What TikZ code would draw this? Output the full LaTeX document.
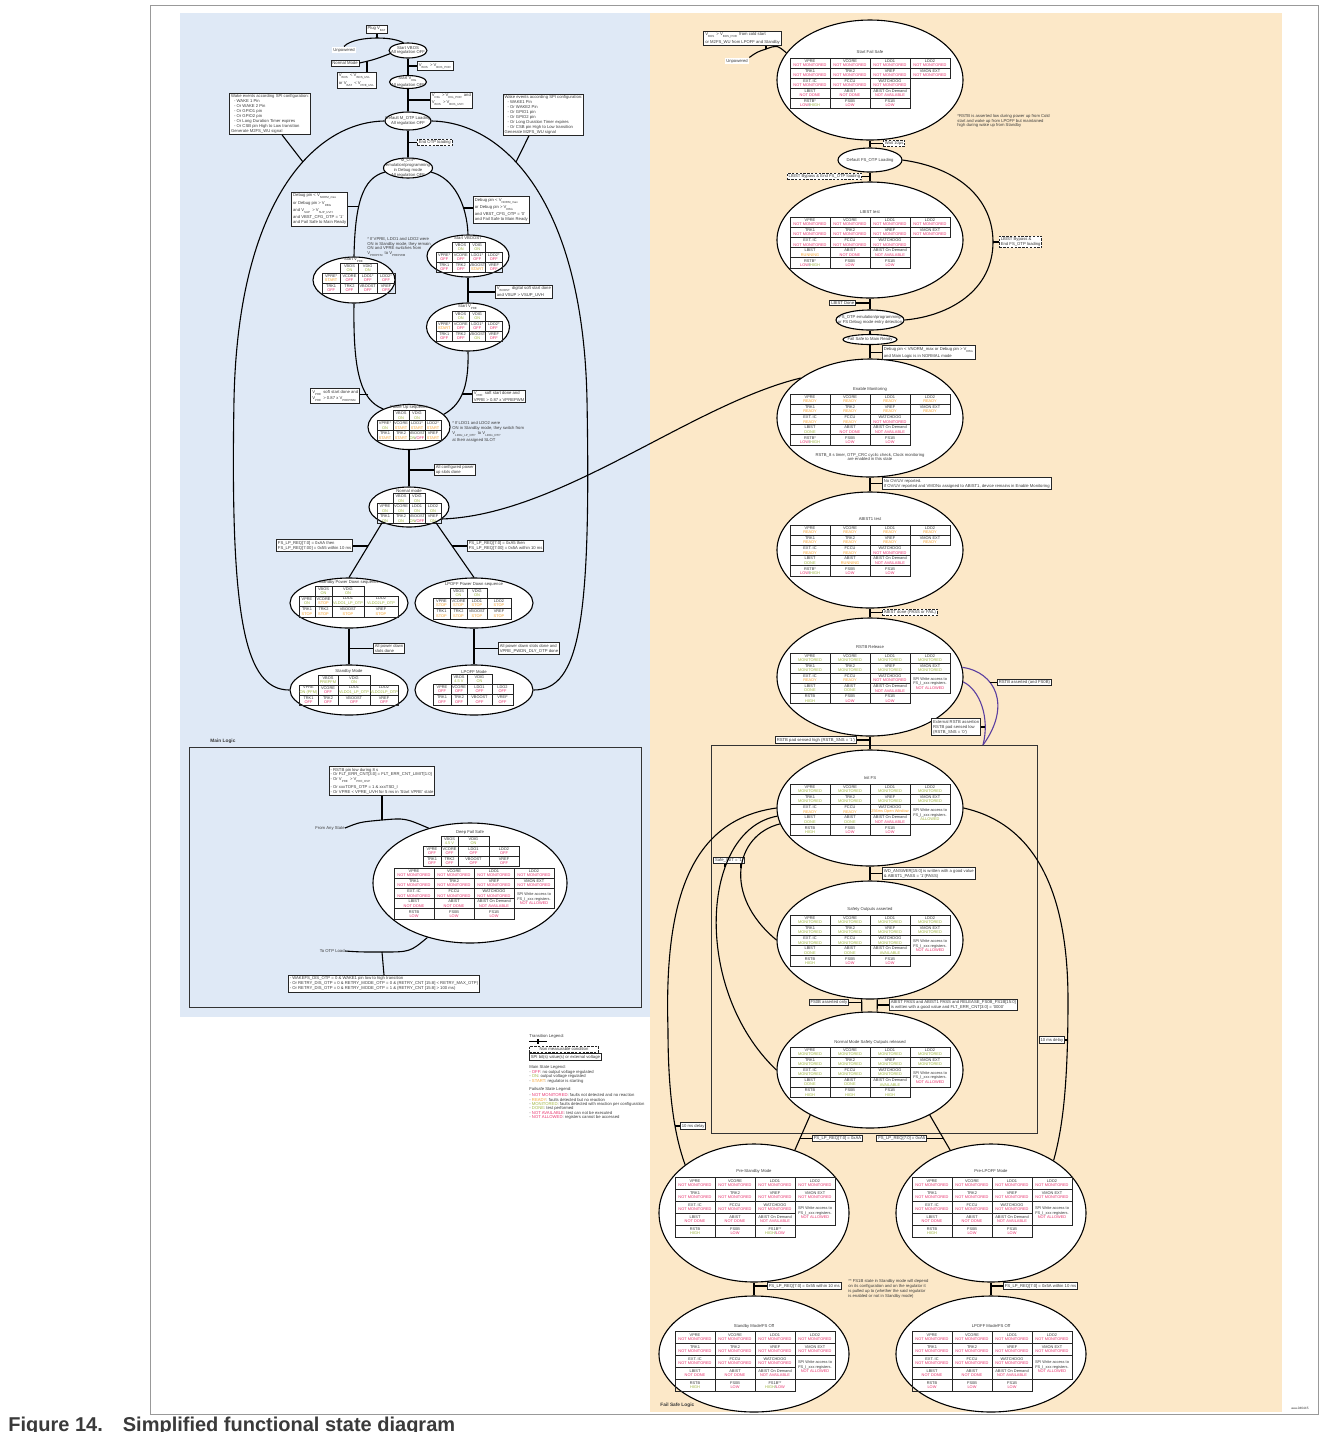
\documentclass[tikz,border=0pt]{standalone}
\usepackage{fontspec}
\setmainfont{Liberation Sans}
\usetikzlibrary{shapes.geometric}

\definecolor{bluebg}{HTML}{DFE9F6}
\definecolor{beigebg}{HTML}{FCE8C8}
\definecolor{stred}{HTML}{E8336E}
\definecolor{stgreen}{HTML}{9FB43F}
\definecolor{storange}{HTML}{F5A12E}
\definecolor{purp}{HTML}{5B3FA0}
\definecolor{ink}{HTML}{3A3A3A}

\newcommand\cellfont{\fontsize{1.95}{2.25}\selectfont}
\newcommand\lblfont{\fontsize{2.1}{2.45}\selectfont}
\newcommand\titfont{\fontsize{2.1}{2.4}\selectfont}
\newcommand\stR[1]{\textcolor{stred}{#1}}
\newcommand\stG[1]{\textcolor{stgreen}{#1}}
\newcommand\stO[1]{\textcolor{storange}{#1}}
\newcommand\stNM{\stR{NOT MONITORED}}
\newcommand\stMO{\stG{MONITORED}}
\newcommand\stRD{\stO{READY}}
\newcommand\lsub[1]{\textsubscript{#1}}

% one table cell: x, y (top-left), width, height, name, state
\newcount\cellno
\newcommand\tcell[6]{\global\advance\cellno by 1\relax
  \node[cell, minimum width={(#3)*0.5pt}, minimum height={(#4)*0.5pt}]
    (cell\the\cellno) at ({(#1)+(#3)/2},{(#2)+(#4)/2}) {#5\\#6};}
% fail-safe table: cell by column / row
\newcommand\fq[4]{\tcell{(#1)*40}{(#2)*\fsrh}{40}{\fsrh}{#3}{#4}}
\newcommand\fsA[1]{\fq{0}{0}{VPRE}{#1}\fq{1}{0}{VCORE}{#1}\fq{2}{0}{LDO1}{#1}\fq{3}{0}{LDO2}{#1}}
\newcommand\fsB[1]{\fq{0}{1}{TRK1}{#1}\fq{1}{1}{TRK2}{#1}\fq{2}{1}{VREF}{#1}\fq{3}{1}{VMON EXT}{#1}}
\newcommand\fsC[3]{\fq{0}{2}{EXT. IC}{#1}\fq{1}{2}{FCCU}{#2}\fq{2}{2}{WATCHDOG}{#3}}
\newcommand\fsD[3]{\fq{0}{3}{LBIST}{#1}\fq{1}{3}{ABIST}{#2}\fq{2}{3}{ABIST On Demand}{#3}}
\newcommand\fsE[5]{\fq{0}{4}{#1}{#2}\fq{1}{4}{FS0B}{#3}\fq{2}{4}{#4}{#5}}
\newcommand\fsSPI[1]{\tcell{120}{2*\fsrh}{40}{2*\fsrh}{SPI Write access to\\FS\_I\_xxx registers.}{#1}}
% regulator table: cell by column / row
\newcommand\mq[4]{\tcell{(#1)*\msw}{(#2)*\msh}{\msw}{\msh}{#3}{#4}}
% empty state ellipse: name, cx, cy, rx, ry
\newcommand\stn[5]{\node[stt, minimum width=#4pt, minimum height=#5pt] (#1) at (#2,#3) {};}

\begin{document}
\begin{tikzpicture}[x=0.5pt,y=-0.5pt,
  cell/.style={draw=black!85, line width=0.35pt, inner sep=0pt, align=center, font=\cellfont, text=ink},
  stt/.style={ellipse, draw=black, line width=0.55pt, fill=white, inner sep=0pt},
  lbl/.style={draw=black!85, line width=0.45pt, fill=white, inner sep=0.7pt, align=left, font=\lblfont, text=ink},
  dlbl/.style={lbl, dash pattern=on 1.2pt off 0.7pt},
  conn/.style={line width=0.55pt, draw=black},
  pconn/.style={line width=0.55pt, draw=purp},
  ttl/.style={font=\titfont, text=ink, inner sep=0pt, align=center},
  txt/.style={font=\lblfont, text=ink, inner sep=0pt, align=left}]

\useasboundingbox (0,0) rectangle (1328,1432);
\fill[white] (0,0) rectangle (1328,1432);
\draw[black!40, line width=0.4pt] (150,5) rectangle (1318,1414);
\fill[bluebg] (180,13) rectangle (650,1017);
\fill[beigebg] (650,13) rectangle (1282,1412);

%% ================= Main logic =================
\stn{evbos}{408}{50.5}{19}{7.5}
\stn{evdig}{408}{82}{18.5}{6.5}
\stn{emotp}{408}{121}{23}{9}
\stn{emem}{408}{168}{24.5}{10}
\stn{esvpreA}{354}{280}{41}{23}
\stn{esvboost}{468}{256}{41}{21}
\stn{esvpreB}{468}{327}{41.5}{24}
\stn{epup}{409}{427}{41}{22.5}
\stn{enorm}{409}{507}{40}{20}
\stn{esbpd}{349}{603}{59}{25}
\stn{elppd}{474}{603}{59}{25}
\stn{esb}{349}{690}{59}{25}
\stn{elp}{474}{690}{59}{25}

\node[ttl] (tvbos) at (408,50.5) {Start VBOS\\All regulation OFF};
\node[ttl] (tvdig) at (408,82) {Start V\lsub{DIG}\\All regulation OFF};
\node[ttl] (tmotp) at (408,121) {Default M\_OTP Loading\\All regulation OFF};
\node[ttl] (tmem) at (408,168) {M\_OTP\\emulation/programming\\in Debug mode\\All regulation OFF};

\node[ttl] (tsvpreA) at (354,260) {Start V\lsub{PRE}};
\begin{scope}[shift={(322,263)}]\def\msw{18.3}\def\msh{10}
\mq{1}{0}{VBOS}{\stG{ON}}\mq{2}{0}{VDIG}{\stG{ON}}
\mq{0}{1}{VPRE*}{\stO{START}}\mq{1}{1}{VCORE}{\stR{OFF}}\mq{2}{1}{LDO1*}{\stR{OFF}}\mq{3}{1}{LDO2*}{\stR{OFF}}
\mq{0}{2}{TRK1}{\stR{OFF}}\mq{1}{2}{TRK2}{\stR{OFF}}\mq{2}{2}{VBOOST}{\stR{OFF}}\mq{3}{2}{VREF}{\stR{OFF}}
\end{scope}

\node[ttl] (tsvboost) at (468,238.5) {Start VBOOST};
\begin{scope}[shift={(436,242)}]\def\msw{16.5}\def\msh{10}
\mq{1}{0}{VBOS}{\stG{ON}}\mq{2}{0}{VDIG}{\stG{ON}}
\mq{0}{1}{VPRE*}{\stR{OFF}}\mq{1}{1}{VCORE}{\stR{OFF}}\mq{2}{1}{LDO1*}{\stR{OFF}}\mq{3}{1}{LDO2*}{\stR{OFF}}
\mq{0}{2}{TRK1}{\stR{OFF}}\mq{1}{2}{TRK2}{\stR{OFF}}\mq{2}{2}{VBOOST}{\stO{START}}\mq{3}{2}{VREF}{\stR{OFF}}
\end{scope}

\node[ttl] (tsvpreB) at (468,307.5) {Start V\lsub{PRE}};
\begin{scope}[shift={(436,311)}]\def\msw{16.5}\def\msh{10}
\mq{1}{0}{VBOS}{\stG{ON}}\mq{2}{0}{VDIG}{\stG{ON}}
\mq{0}{1}{VPRE*}{\stO{START}}\mq{1}{1}{VCORE}{\stR{OFF}}\mq{2}{1}{LDO1*}{\stR{OFF}}\mq{3}{1}{LDO2*}{\stR{OFF}}
\mq{0}{2}{TRK1}{\stR{OFF}}\mq{1}{2}{TRK2}{\stR{OFF}}\mq{2}{2}{VBOOST}{\stG{ON}}\mq{3}{2}{VREF}{\stR{OFF}}
\end{scope}

\node[ttl] (tpup) at (409,407.5) {Power Up sequence};
\begin{scope}[shift={(377,410.5)}]\def\msw{16}\def\msh{10}
\mq{1}{0}{VBOS}{\stG{ON}}\mq{2}{0}{VDIG}{\stG{ON}}
\mq{0}{1}{VPRE*}{\stG{ON}}\mq{1}{1}{VCORE}{\stO{START}}\mq{2}{1}{LDO1*}{\stO{START}}\mq{3}{1}{LDO2*}{\stO{START}}
\mq{0}{2}{TRK1}{\stO{START}}\mq{1}{2}{TRK2}{\stO{START}}\mq{2}{2}{VBOOST}{\stG{ON}/\stR{OFF}}\mq{3}{2}{VREF}{\stO{START}}
\end{scope}

\node[ttl] (tnorm) at (409,490.5) {Normal mode};
\begin{scope}[shift={(377,493.5)}]\def\msw{16}\def\msh{10}
\mq{1}{0}{VBOS}{\stG{ON}}\mq{2}{0}{VDIG}{\stG{ON}}
\mq{0}{1}{VPRE}{\stG{ON}}\mq{1}{1}{VCORE}{\stG{ON}}\mq{2}{1}{LDO1}{\stG{ON}}\mq{3}{1}{LDO2}{\stG{ON}}
\mq{0}{2}{TRK1}{\stG{ON}}\mq{1}{2}{TRK2}{\stG{ON}}\mq{2}{2}{VBOOST}{\stG{ON}/\stR{OFF}}\mq{3}{2}{VREF}{\stG{ON}}
\end{scope}

\node[ttl] (tsbpd) at (349,582.5) {Standby Power Down sequence};
\tcell{315}{586}{17}{10}{VBOS}{\stG{ON}}\tcell{332}{586}{32}{10}{VDIG}{\stG{ON}}
\tcell{299}{596}{16}{10.5}{VPRE}{\stG{ON}}\tcell{315}{596}{17}{10.5}{VCORE}{\stO{STOP}}\tcell{332}{596}{32}{10.5}{LDO1}{\stG{VLDO1\_LP\_OTP}}\tcell{364}{596}{34}{10.5}{LDO2}{\stG{VLDO2LP\_OTP}}
\tcell{299}{606.5}{16}{10.5}{TRK1}{\stO{STOP}}\tcell{315}{606.5}{17}{10.5}{TRK2}{\stO{STOP}}\tcell{332}{606.5}{32}{10.5}{VBOOST}{\stO{STOP}}\tcell{364}{606.5}{34}{10.5}{VREF}{\stO{STOP}}

\node[ttl] (tlppd) at (474,584.5) {LPOFF Power Down sequence};
\tcell{450}{588}{17}{10}{VBOS}{\stG{ON}}\tcell{467}{588}{20}{10}{VDIG}{\stG{ON}}
\tcell{433}{598}{17}{10.5}{VPRE}{\stO{STOP}}\tcell{450}{598}{17}{10.5}{VCORE}{\stO{STOP}}\tcell{467}{598}{20}{10.5}{LDO1}{\stO{STOP}}\tcell{487}{598}{24}{10.5}{LDO2}{\stO{STOP}}
\tcell{433}{608.5}{17}{10.5}{TRK1}{\stO{STOP}}\tcell{450}{608.5}{17}{10.5}{TRK2}{\stO{STOP}}\tcell{467}{608.5}{20}{10.5}{VBOOST}{\stO{STOP}}\tcell{487}{608.5}{24}{10.5}{VREF}{\stO{STOP}}

\node[ttl] (tsb) at (349,671.5) {Standby Mode};
\tcell{318}{675}{20}{10}{VBOS}{\stG{PREPFM}}\tcell{338}{675}{32}{10}{VDIG}{\stG{ON}}
\tcell{299}{685}{19}{10}{VPRE}{\stG{ON (PFM)}}\tcell{318}{685}{20}{10}{VCORE}{\stR{OFF}}\tcell{338}{685}{32}{10}{LDO1}{\stG{VLDO1\_LP\_OTP}}\tcell{370}{685}{28}{10}{LDO2}{\stG{VLDO2LP\_OTP}}
\tcell{299}{695}{19}{10}{TRK1}{\stR{OFF}}\tcell{318}{695}{20}{10}{TRK2}{\stR{OFF}}\tcell{338}{695}{32}{10}{VBOOST}{\stR{OFF}}\tcell{370}{695}{28}{10}{VREF}{\stR{OFF}}

\node[ttl] (tlp) at (474,671.5) {LPOFF Mode};
\tcell{451}{674}{16}{10}{VBOS}{\stG{4.5 V}}\tcell{467}{674}{25}{10}{VDIG}{\stG{ON}}
\tcell{433}{684}{18}{10.5}{VPRE}{\stR{OFF}}\tcell{451}{684}{16}{10.5}{VCORE}{\stR{OFF}}\tcell{467}{684}{25}{10.5}{LDO1}{\stR{OFF}}\tcell{492}{684}{21}{10.5}{LDO2}{\stR{OFF}}
\tcell{433}{694.5}{18}{10.5}{TRK1}{\stR{OFF}}\tcell{451}{694.5}{16}{10.5}{TRK2}{\stR{OFF}}\tcell{467}{694.5}{25}{10.5}{VBOOST}{\stR{OFF}}\tcell{492}{694.5}{21}{10.5}{VREF}{\stR{OFF}}

% transition labels, main logic
\node[lbl, anchor=south] (plug) at (377,33.5) {Plug V\lsub{BAT}};
\node[txt, fill=white, inner sep=0.6pt] (unpA) at (344,50) {Unpowered};
\node[lbl] (nmode) at (345,63) {Normal Mode};
\node[lbl, anchor=north] (uvl) at (357,72) {V\lsub{BOS} < V\lsub{BOS\_UVL}\\or V\lsub{BAT} < V\lsub{PRE\_UVL}};
\node[lbl, anchor=west] (por) at (417,66) {V\lsub{BOS} > V\lsub{BOS\_POR}};
\node[lbl, anchor=west] (digpor) at (430,100) {V\lsub{DIG} > V\lsub{DIG\_POR} and\\V\lsub{BOS} > V\lsub{BOS\_UVH}};
\node[dlbl, anchor=west] (endotp) at (417,142.5) {End OTP loading};
\node[lbl] (wakeL) at (270,114) {Wake events according SPI configuration:\\\hspace{1.5pt}- WAKE 1 Pin\\\hspace{1.5pt}- Or WAKE 2 Pin\\\hspace{1.5pt}- Or GPIO1 pin\\\hspace{1.5pt}- Or GPIO2 pin\\\hspace{1.5pt}- Or Long Duration Timer expires\\\hspace{1.5pt}- Or CSB pin High to Low transition\\Generate M2FS\_WU signal};
\node[lbl] (wakeR) at (543.5,115) {Wake events according SPI configuration:\\\hspace{1.5pt}- WAKE1 Pin\\\hspace{1.5pt}- Or WAKE2 Pin\\\hspace{1.5pt}- Or GPIO1 pin\\\hspace{1.5pt}- Or GPIO2 pin\\\hspace{1.5pt}- Or Long Duration Timer expires\\\hspace{1.5pt}- Or CSB pin High to Low transition\\Generate M2FS\_WU signal};
\node[lbl, anchor=east] (dbgL) at (348,209) {Debug pin < V\lsub{NORM\_max}\\or Debug pin > V\lsub{DBG}\\and V\lsub{SUP} > V\lsub{SUP\_UVH}\\and VBST\_CFG\_OTP = '1'\\and Fail Safe to Main Ready};
\node[lbl, anchor=west] (dbgR) at (473,210) {Debug pin < V\lsub{NORM\_max}\\or Debug pin > V\lsub{DBG}\\and VBST\_CFG\_OTP = '0'\\and Fail Safe to Main Ready};
\node[txt, anchor=west] (noteA) at (367,247) {* If VPRE, LDO1 and LDO2 were\\ON in Standby mode, they remain\\ON and VPRE switches from\\V\lsub{PREPFM} to V\lsub{PREPWM}};
\node[lbl, anchor=west] (vbst) at (495,292) {V\lsub{BOOST} digital soft start done\\and VSUP > VSUP\_UVH};
\node[lbl, anchor=east] (ssL) at (360,396) {V\lsub{PRE} soft start done and\\V\lsub{PRE} > 0.87 x V\lsub{PREPWM}};
\node[lbl, anchor=west] (ssR) at (472,396.5) {V\lsub{PRE} soft start done and\\VPRE > 0.87 x VPREPWM};
\node[txt, anchor=west] (noteB) at (452,432) {* If LDO1 and LDO2 were\\ON in Standby mode, they switch from\\V\lsub{LDOx\_LP\_OTP} to V\lsub{LDOx\_OTP}\\at their assigned SLOT};
\node[lbl, anchor=west] (allpu) at (434,470) {All configured power\\up slots done};
\node[lbl, anchor=east] (lpL) at (353,545.5) {FS\_LP\_REQ[7:0] = 0xAA then\\FS\_LP\_REQ[7:00] = 0x55 within 10 ms};
\node[lbl, anchor=west] (lpR) at (467,546) {FS\_LP\_REQ[7:0] = 0xA5 then\\FS\_LP\_REQ[7:00] = 0x5A within 10 ms};
\node[lbl, anchor=west] (pdL) at (373,648.5) {All power down\\slots done};
\node[lbl, anchor=west] (pdR) at (498,648.5) {All power down slots done and\\VPRE\_PWDN\_DLY\_OTP done};

% transitions, main logic
\coordinate (j1) at (377,38);
\draw[conn] (plug.south) -- (j1);
\draw[conn] (unpA.north) .. controls (350,40) and (366,38) .. (j1) .. controls (390,38) and (398,40) .. (evbos.120);
\coordinate (knm) at (367,61.3);
\draw[conn] (nmode.east) .. controls (363,62.5) .. (knm) .. controls (376,59) .. (evbos.190);
\draw[conn] (knm) -- (knm |- uvl.north);
\draw[conn] (evbos.south) -- (evdig.north);
\coordinate (kpor) at (408,66); \draw[conn] (kpor) -- (por.west);
\draw[conn] (evdig.south) -- (emotp.north);
\coordinate (kdig) at (408,100); \draw[conn] (kdig) -- (digpor.west);
\draw[conn] (emotp.south) -- (emem.north);
\coordinate (kotp) at (408,142.5); \draw[conn] (kotp) -- (endotp.west);
% outer wake-up loops
\draw[conn] (emotp.west) .. controls (315,122) and (238,200) .. (234,400) .. controls (230,620) and (245,690) .. (esb.west);
\draw[conn] (emotp.east) .. controls (503,122) and (583,200) .. (587,400) .. controls (591,620) and (580,690) .. (elp.east);
\coordinate (kwl) at (303,162); \draw[conn] (wakeL.300) -- (kwl);
\coordinate (kwr) at (516,162); \draw[conn] (wakeR.235) -- (kwr);
% debug branches
\draw[conn] (emem.190) .. controls (362,178) and (355,205) .. (esvpreA.north);
\draw[conn] (emem.350) .. controls (454,178) and (467,205) .. (esvboost.north);
\coordinate (kdl) at (358.6,206.5); \draw[conn] (kdl) -- (kdl -| dbgL.east);
\coordinate (kdr) at (463.5,208); \draw[conn] (kdr) -- (kdr -| dbgR.west);
\draw[conn] (esvboost.south) -- (esvpreB.north);
\coordinate (kvb) at (468,292); \draw[conn] (kvb) -- (kvb -| vbst.west);
\draw[conn] (esvpreA.south) .. controls (353,370) and (360,400) .. (epup.145);
\draw[conn] (esvpreB.south) .. controls (469,390) and (460,405) .. (epup.20);
\coordinate (kvl) at (368.3,394.5); \draw[conn] (kvl) -- (kvl -| ssL.east);
\coordinate (kvr) at (461.5,394); \draw[conn] (kvr) -- (kvr -| ssR.west);
\draw[conn] (epup.south) -- (enorm.north);
\coordinate (kpu) at (409,470); \draw[conn] (kpu) -- (allpu.west);
\draw[conn] (enorm.210) -- (esbpd.north);
\draw[conn] (enorm.330) -- (elppd.north);
\coordinate (klpl) at (367.5,546); \draw[conn] (klpl) -- (klpl -| lpL.east);
\coordinate (klpr) at (452,546); \draw[conn] (klpr) -- (klpr -| lpR.west);
\draw[conn] (esbpd.south) -- (esb.north);
\coordinate (kpdl) at (349,648.5); \draw[conn] (kpdl) -- (pdL.west);
\draw[conn] (elppd.south) -- (elp.north);
\coordinate (kpdr) at (474,648.5); \draw[conn] (kpdr) -- (pdR.west);

%% ----- Deep Fail Safe -----
\node[font=\fontsize{2.4}{2.8}\selectfont\bfseries, text=ink, anchor=west, inner sep=0pt] (mlogic) at (210,741) {Main Logic};
\draw[black!80, line width=0.45pt] (189,747) rectangle (641,1007);
\stn{edfs}{470}{883}{97}{60}
\node[ttl] (tdfs) at (470,832.5) {Deep Fail Safe};
\tcell{441}{836}{17}{10}{VBOS}{\stG{4.5 V}}\tcell{458}{836}{31}{10}{VDIG}{\stG{ON}}
\tcell{423}{846}{18}{10}{VPRE}{\stR{OFF}}\tcell{441}{846}{17}{10}{VCORE}{\stR{OFF}}\tcell{458}{846}{31}{10}{LDO1}{\stR{OFF}}\tcell{489}{846}{30}{10}{LDO2}{\stR{OFF}}
\tcell{423}{856}{18}{10}{TRK1}{\stR{OFF}}\tcell{441}{856}{17}{10}{TRK2}{\stR{OFF}}\tcell{458}{856}{31}{10}{VBOOST}{\stR{OFF}}\tcell{489}{856}{30}{10}{VREF}{\stR{OFF}}
\begin{scope}[shift={(394,868)}]\def\fsrh{10.2}
\fsA{\stNM}\fsB{\stNM}\fsC{\stNM}{\stNM}{\stNM}\fsSPI{\stR{NOT ALLOWED}}
\fsD{\stR{NOT DONE}}{\stR{NOT DONE}}{\stR{NOT AVAILABLE}}
\fsE{RSTB}{\stR{LOW}}{\stR{LOW}}{FS1B}{\stR{LOW}}
\end{scope}
\node[lbl] (rstbbox) at (382,781) {- RSTB pin low during 8 s\\- Or FLT\_ERR\_CNT[3:0] = FLT\_ERR\_CNT\_LIMIT[1:0]\\- Or V\lsub{PRE} > V\lsub{PRE\_OVP}\\- Or xxxTOFS\_OTP = 1 \& xxxTSD\_I\\- Or VPRE < VPRE\_UVH for 5 ms in 'Start VPRE' state};
\node[txt, anchor=east] (fas) at (345,828) {From Any State};
\node[txt, anchor=east] (tol) at (345,951) {To OTP Load};
\node[lbl, anchor=north] (wkbox) at (384,975) {- WAKEFS\_DIS\_OTP = 0 \& WAKE1 pin low to high transition\\- Or RETRY\_DIS\_OTP = 0 \& RETRY\_MODE\_OTP = 0 \& (RETRY\_CNT [15:8] < RETRY\_MAX\_OTP)\\- Or RETRY\_DIS\_OTP = 0 \& RETRY\_MODE\_OTP = 1 \& (RETRY\_CNT [15:8] > 100 ms)};
\coordinate (jd1) at (382,820);
\coordinate (jd2) at (382,952);
\draw[conn] (rstbbox.south) -- (jd1);
\draw[conn] (fas.east) .. controls (360,822) .. (jd1) .. controls (405,818) .. (edfs.127);
\draw[conn] (edfs.232) .. controls (410,952) .. (jd2) .. controls (360,952) .. (tol.east);
\draw[conn] (jd2) -- (wkbox.north);

%% legend
\node[txt, anchor=west] (lgA) at (529,1036) {Transition Legend:};
\coordinate (lga) at (529,1041.5); \coordinate (lgb) at (547,1041.5);
\coordinate (lgc) at (538,1039); \coordinate (lgd) at (538,1044);
\draw[conn] (lga) -- (lgb); \draw[conn] (lgc) -- (lgd);
\node[dlbl, anchor=west, minimum width=34.5pt] (lgB) at (529,1049) {Non measurable condition};
\node[lbl, anchor=west, minimum width=34.5pt] (lgC) at (529,1057) {SPI bit(s) value(s) or external voltage};
\node[txt, anchor=west] (lgD) at (529,1067) {Main State Legend:};
\node[txt, anchor=west] (lgD1) at (529,1072) {- \stR{OFF}: no output voltage regulated};
\node[txt, anchor=west] (lgD2) at (529,1076.5) {- \stG{ON}: output voltage regulated};
\node[txt, anchor=west] (lgD3) at (529,1081) {- \stO{START}: regulator is starting};
\node[txt, anchor=west] (lgE) at (529,1089) {Failsafe State Legend:};
\node[txt, anchor=west] (lgE1) at (529,1095) {- \stR{NOT MONITORED}: faults not detected and no reaction};
\node[txt, anchor=west] (lgE2) at (529,1099.5) {- \stO{READY}: faults detected but no reaction};
\node[txt, anchor=west] (lgE3) at (529,1104) {- \stG{MONITORED}: faults detected with reaction per configuration};
\node[txt, anchor=west] (lgE4) at (529,1108.5) {- \stG{DONE}: test performed};
\node[txt, anchor=west] (lgE5) at (529,1113) {- \stR{NOT AVAILABLE}: test can not be executed};
\node[txt, anchor=west] (lgE6) at (529,1117.5) {- \stR{NOT ALLOWED}: registers cannot be accessed};

%% ================= Fail safe logic =================
\draw[black!80, line width=0.45pt] (711,745) rectangle (1037,1133);
\stn{esfs}{870}{80}{93}{60}
\stn{edfo}{870}{160}{32}{12}
\stn{elbist}{870}{240}{93}{58}
\stn{efsotp}{870}{320}{34}{10}
\stn{efsmr}{870}{339.5}{27}{5}
\stn{een}{870}{418}{93}{59}
\stn{eabi}{870}{550}{93}{58}
\stn{erstb}{870}{677}{93}{59}
\stn{einit}{870}{808}{93}{58}
\stn{esfo}{870}{940}{93}{59}
\stn{enmso}{870}{1070}{93}{58}
\stn{epsb}{754}{1213}{95}{69}
\stn{eplp}{991}{1213}{95}{69}
\stn{esbfs}{754}{1354}{95}{58}
\stn{elpfs}{991}{1354}{95}{58}

\node[ttl] (tdfo) at (870,160) {Default FS\_OTP Loading};
\node[ttl] (tfsotp) at (870,320) {FS\_OTP emulation/programming\\or FS Debug mode entry detection};
\node[ttl] (tfsmr) at (870,339.5) {Fail Safe to Main Ready};

\node[ttl] (tsfs) at (870,52) {Start Fail Safe};
\begin{scope}[shift={(790,58)}]\def\fsrh{10}
\fsA{\stNM}\fsB{\stNM}\fsC{\stNM}{\stNM}{\stNM}
\fsD{\stR{NOT DONE}}{\stR{NOT DONE}}{\stR{NOT AVAILABLE}}
\fsE{RSTB*}{\stR{LOW}/\stG{HIGH}}{\stR{LOW}}{FS1B}{\stR{LOW}}
\end{scope}

\node[ttl] (tlbist) at (870,212) {LBIST test};
\begin{scope}[shift={(790,217)}]\def\fsrh{10.2}
\fsA{\stNM}\fsB{\stNM}\fsC{\stNM}{\stNM}{\stNM}
\fsD{\stO{RUNNING}}{\stR{NOT DONE}}{\stR{NOT AVAILABLE}}
\fsE{RSTB*}{\stR{LOW}/\stG{HIGH}}{\stR{LOW}}{FS1B}{\stR{LOW}}
\end{scope}

\node[ttl] (ten) at (870,389) {Enable Monitoring};
\begin{scope}[shift={(790,394)}]\def\fsrh{10.2}
\fsA{\stRD}\fsB{\stRD}\fsC{\stRD}{\stRD}{\stNM}
\fsD{\stG{DONE}}{\stR{NOT DONE}}{\stR{NOT AVAILABLE}}
\fsE{RSTB*}{\stR{LOW}/\stG{HIGH}}{\stR{LOW}}{FS1B}{\stR{LOW}}
\end{scope}
\node[ttl] (tennote) at (870,457) {RSTB\_8 s timer, OTP\_CRC cyclic check, Clock monitoring\\are enabled in this state};

\node[ttl] (tabi) at (870,519) {ABIST1 test};
\begin{scope}[shift={(790,525)}]\def\fsrh{10.2}
\fsA{\stRD}\fsB{\stRD}\fsC{\stRD}{\stRD}{\stNM}
\fsD{\stG{DONE}}{\stO{RUNNING}}{\stR{NOT AVAILABLE}}
\fsE{RSTB*}{\stR{LOW}/\stG{HIGH}}{\stR{LOW}}{FS1B}{\stR{LOW}}
\end{scope}

\node[ttl] (trstb) at (870,647) {RSTB Release};
\begin{scope}[shift={(790,653)}]\def\fsrh{10.1}
\fsA{\stMO}\fsB{\stMO}\fsC{\stRD}{\stRD}{\stNM}\fsSPI{\stR{NOT ALLOWED}}
\fsD{\stG{DONE}}{\stG{DONE}}{\stR{NOT AVAILABLE}}
\fsE{RSTB}{\stG{HIGH}}{\stR{LOW}}{FS1B}{\stR{LOW}}
\end{scope}

\node[ttl] (tinit) at (870,778) {Init FS};
\begin{scope}[shift={(790,784)}]\def\fsrh{10.2}
\fsA{\stMO}\fsB{\stMO}\fsC{\stRD}{\stRD}{\stO{256ms Open Window}}\fsSPI{\stG{ALLOWED}}
\fsD{\stG{DONE}}{\stG{DONE}}{\stR{NOT AVAILABLE}}
\fsE{RSTB}{\stG{HIGH}}{\stR{LOW}}{FS1B}{\stR{LOW}}
\end{scope}

\node[ttl] (tsfo) at (870,909) {Safety Outputs asserted};
\begin{scope}[shift={(790,915)}]\def\fsrh{10.2}
\fsA{\stMO}\fsB{\stMO}\fsC{\stMO}{\stMO}{\stMO}\fsSPI{\stR{NOT ALLOWED}}
\fsD{\stG{DONE}}{\stG{DONE}}{\stG{AVAILABLE}}
\fsE{RSTB}{\stG{HIGH}}{\stR{LOW}}{FS1B}{\stR{LOW}}
\end{scope}

\node[ttl] (tnmso) at (870,1042) {Normal Mode Safety Outputs released};
\begin{scope}[shift={(790,1047)}]\def\fsrh{10.1}
\fsA{\stMO}\fsB{\stMO}\fsC{\stMO}{\stMO}{\stMO}\fsSPI{\stR{NOT ALLOWED}}
\fsD{\stG{DONE}}{\stG{DONE}}{\stG{AVAILABLE}}
\fsE{RSTB}{\stG{HIGH}}{\stG{HIGH}}{FS1B}{\stG{HIGH}}
\end{scope}

\node[ttl] (tpsb) at (754,1171) {Pre-Standby Mode};
\begin{scope}[shift={(675,1177)}]\def\fsrh{12}
\fsA{\stNM}\fsB{\stNM}\fsC{\stNM}{\stNM}{\stNM}\fsSPI{\stR{NOT ALLOWED}}
\fsD{\stR{NOT DONE}}{\stR{NOT DONE}}{\stR{NOT AVAILABLE}}
\fsE{RSTB}{\stG{HIGH}}{\stR{LOW}}{FS1B**}{\stG{HIGH}/\stR{LOW}}
\end{scope}

\node[ttl] (tplp) at (991,1171) {Pre-LPOFF Mode};
\begin{scope}[shift={(912,1177)}]\def\fsrh{12}
\fsA{\stNM}\fsB{\stNM}\fsC{\stNM}{\stNM}{\stNM}\fsSPI{\stR{NOT ALLOWED}}
\fsD{\stR{NOT DONE}}{\stR{NOT DONE}}{\stR{NOT AVAILABLE}}
\fsE{RSTB}{\stG{HIGH}}{\stR{LOW}}{FS1B}{\stR{LOW}}
\end{scope}

\node[ttl] (tsbfs) at (754,1326) {Standby Mode/FS Off};
\begin{scope}[shift={(675,1331)}]\def\fsrh{12}
\fsA{\stNM}\fsB{\stNM}\fsC{\stNM}{\stNM}{\stNM}\fsSPI{\stR{NOT ALLOWED}}
\fsD{\stR{NOT DONE}}{\stR{NOT DONE}}{\stR{NOT AVAILABLE}}
\fsE{RSTB}{\stG{HIGH}}{\stR{LOW}}{FS1B**}{\stG{HIGH}/\stR{LOW}}
\end{scope}

\node[ttl] (tlpfs) at (991,1326) {LPOFF Mode/FS Off};
\begin{scope}[shift={(912,1331)}]\def\fsrh{12}
\fsA{\stNM}\fsB{\stNM}\fsC{\stNM}{\stNM}{\stNM}\fsSPI{\stR{NOT ALLOWED}}
\fsD{\stR{NOT DONE}}{\stR{NOT DONE}}{\stR{NOT AVAILABLE}}
\fsE{RSTB}{\stR{LOW}}{\stR{LOW}}{FS1B}{\stR{LOW}}
\end{scope}

% transition labels, fail safe logic
\node[lbl] (coldbox) at (742.5,38.5) {V\lsub{BOS} > V\lsub{BOS\_POR} from cold start\\or M2FS\_WU from LPOFF and Standby};
\node[txt, fill=white, inner sep=0.6pt] (unpB) at (737,61) {Unpowered};
\node[txt, anchor=west] (noteC) at (957,121) {*RSTB is asserted low during power up from Cold\\start and wake up from LPOFF but maintained\\high during wake up from Standby};
\node[dlbl, anchor=west] (wait) at (883,143.5) {Wait 10µs};
\node[dlbl, anchor=east] (lbypA) at (862,176.5) {LBIST Bypass \& End FS\_OTP loading};
\node[dlbl, anchor=west] (lbypB) at (999,242) {LBIST Bypass \&\\End FS\_OTP loading};
\node[lbl, anchor=east] (ldone) at (856,303) {LBIST Done};
\node[lbl, anchor=west] (dbgM) at (882,352.5) {Debug pin < VNORM\_max or Debug pin > V\lsub{DBG}\\and Main Logic is in NORMAL mode};
\node[lbl, anchor=west] (ovuv) at (882,483.5) {No OV/UV reported.\\If OV/UV reported and VMONx assigned to ABIST1, device remains in Enable Monitoring};
\node[dlbl, anchor=west] (abd) at (882,612.5) {ABIST done (PASS or FAIL)};
\node[lbl, anchor=west] (rsa) at (997,682.5) {RSTB asserted (and FS0B)};
\node[lbl, anchor=east] (extr) at (981,727) {External RSTB assertion\\RSTB pad sensed low\\(RSTB\_SNS = '0')};
\node[lbl, anchor=east] (rsh) at (857,740) {RSTB pad sensed high (RSTB\_SNS = '1')};
\node[lbl, anchor=west] (wdans) at (882,873.5) {WD\_ANSWER[15:0] is written with a good value\\\& ABIST1\_PASS = '1'(PASS)};
\node[lbl] (safeinit) at (729,860.5) {Safe\_INIT = '1'};
\node[lbl, anchor=east] (fs0b) at (849,1002.5) {FS0B asserted only};
\node[lbl, anchor=west] (relfs) at (889,1005) {ABIST PASS and ABIST1 PASS and RELEASE\_FS0B\_FS1B[15:0]\\is written with a good value and FLT\_ERR\_CNT[3:0] = '0000'};
\node[lbl, anchor=west] (dlyL) at (680,1126) {10 ms delay};
\node[lbl, anchor=east] (dlyR) at (1065,1040) {10 ms delay};
\node[lbl, anchor=west] (lpaa) at (812,1138.5) {FS\_LP\_REQ[7:0] = 0xAA};
\node[lbl, anchor=east] (lpa5) at (927,1138.5) {FS\_LP\_REQ[7:0] = 0xA5};
\node[lbl, anchor=west] (lp55) at (767,1286) {FS\_LP\_REQ[7:0] = 0x55 within 10 ms};
\node[lbl, anchor=west] (lp5a) at (1003,1286) {FS\_LP\_REQ[7:0] = 0x5A within 10 ms};
\node[txt, anchor=west] (noteD) at (848,1289) {** FS1B state in Standby mode will depend\\on its configuration and on the regulator it\\is pulled up to (whether the said regulator\\is enabled or not in Standby mode)};
\node[font=\fontsize{2.4}{2.8}\selectfont\bfseries, text=ink, anchor=west, inner sep=0pt] (fslogic) at (660,1405) {Fail Safe Logic};
\node[font=\fontsize{1.6}{2}\selectfont, text=ink, inner sep=0pt] (docid) at (1300,1408) {aaa-046445};

% transitions, fail safe logic
\coordinate (j2) at (766,49);
\draw[conn] (coldbox.south -| j2) -- (j2);
\draw[conn] (unpB.north east) .. controls (757,52) .. (j2) .. controls (777,45) .. (esfs.162);
\draw[conn] (esfs.south) -- (edfo.north);
\coordinate (kwait) at (870,143.5); \draw[conn] (kwait) -- (wait.west);
\draw[conn] (edfo.south) -- (elbist.north);
\coordinate (kbya) at (870,176.5); \draw[conn] (kbya) -- (lbypA.east);
\draw[conn] (edfo.east) .. controls (960,168) and (993,200) .. (993,242) .. controls (993,290) and (950,316) .. (efsotp.east);
\coordinate (kbyb) at (993,242); \draw[conn] (kbyb) -- (lbypB.west);
\draw[conn] (elbist.south) -- (efsotp.north);
\coordinate (kld) at (870,303); \draw[conn] (kld) -- (ldone.east);
\draw[conn] (efsotp.south) -- (efsmr.north);
\draw[conn] (efsmr.south) -- (een.north);
\coordinate (kdm) at (870,352.5); \draw[conn] (kdm) -- (dbgM.west);
\draw[conn] (enorm.340) .. controls (560,515) and (690,405) .. (een.150);
\draw[conn] (een.south) -- (eabi.north);
\coordinate (kov) at (870,483.5); \draw[conn] (kov) -- (ovuv.west);
\draw[conn] (eabi.south) -- (erstb.north);
\coordinate (kab) at (870,612.5); \draw[conn] (kab) -- (abd.west);
\draw[conn] (erstb.south) -- (einit.north);
\coordinate (krh) at (870,740); \draw[conn] (krh) -- (rsh.east);
\coordinate (fr1) at (983,745);
\draw[pconn] (erstb.6) .. controls (995,672) and (1012,705) .. (fr1);
\draw[pconn] (erstb.-3) .. controls (980,690) and (990,718) .. (fr1);
\coordinate (kra) at (989.6,682.5); \draw[conn] (kra) -- (rsa.west);
\coordinate (kre) at (985,727); \draw[conn] (kre) -- (extr.east);
\draw[conn] (einit.south) -- (esfo.north);
\coordinate (kwd) at (870,873.5); \draw[conn] (kwd) -- (wdans.west);
\draw[conn] (einit.190) .. controls (735,835) and (722,895) .. (esfo.west);
\draw[conn] (einit.185) .. controls (700,830) and (692,990) .. (enmso.west);
\draw[conn] (einit.west) .. controls (690,820) and (664,900) .. (668,1030) .. controls (668,1100) and (676,1140) .. (epsb.145);
\coordinate (ksi1) at (741,868); \draw[conn] (ksi1) -- (ksi1 |- safeinit.south);
\coordinate (ksi2) at (725,867); \draw[conn] (ksi2) -- (ksi2 |- safeinit.south);
\coordinate (kdl) at (675.3,1126); \draw[conn] (kdl) -- (dlyL.west);
\draw[conn] (einit.east) .. controls (1040,825) and (1068,900) .. (1068,1000) .. controls (1068,1090) and (1062,1130) .. (eplp.40);
\coordinate (kdr) at (1068,1040); \draw[conn] (kdr) -- (dlyR.east);
\draw[conn] (esfo.262) -- (enmso.98);
\draw[conn] (esfo.277) -- (enmso.83);
\coordinate (kfs) at (861.8,1002.5); \draw[conn] (kfs) -- (fs0b.east);
\coordinate (krl) at (877.2,1005); \draw[conn] (krl) -- (relfs.west);
\draw[conn] (enmso.217) -- (epsb.57);
\draw[conn] (enmso.323) -- (eplp.123);
\coordinate (kaa) at (800,1138.5); \draw[conn] (kaa) -- (lpaa.west);
\coordinate (ka5) at (943.4,1138.5); \draw[conn] (ka5) -- (lpa5.east);
\draw[conn] (epsb.south) -- (esbfs.north);
\coordinate (k55) at (754,1286); \draw[conn] (k55) -- (lp55.west);
\draw[conn] (eplp.south) -- (elpfs.north);
\coordinate (k5a) at (991,1286); \draw[conn] (k5a) -- (lp5a.west);

%% caption
\node[anchor=base west, font=\fontsize{10}{12}\selectfont\bfseries, text=ink, inner sep=0pt] (cap) at (8,1431.5) {Figure 14.\hspace{10pt}Simplified functional state diagram};
\end{tikzpicture}
\end{document}
